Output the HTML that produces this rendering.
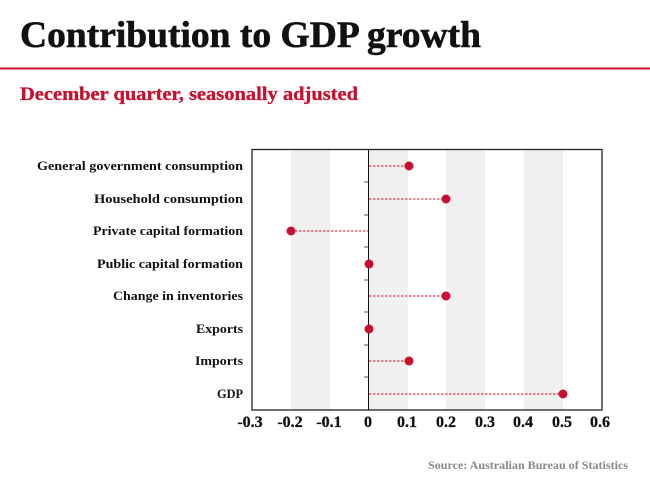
<!DOCTYPE html>
<html><head><meta charset="utf-8"><style>
html,body{margin:0;padding:0;background:#fff;}
svg{display:block;}
text{font-family:"Liberation Serif",serif;font-weight:bold;}
</style></head><body>
<svg width="650" height="488" viewBox="0 0 650 488" xmlns="http://www.w3.org/2000/svg">
<text x="20" y="47" font-size="37" fill="#111" textLength="461" lengthAdjust="spacingAndGlyphs" stroke="#111" stroke-width="0.6">Contribution to GDP growth</text>
<rect x="0" y="67.5" width="650" height="2" fill="#c8102e"/>
<text x="20" y="100" font-size="19" fill="#c8102e" textLength="338" lengthAdjust="spacingAndGlyphs" stroke="#c8102e" stroke-width="0.3">December quarter, seasonally adjusted</text>
<g fill="#f0f0f0">
<rect x="291" y="150" width="39" height="260"/>
<rect x="369" y="150" width="39" height="260"/>
<rect x="446" y="150" width="39" height="260"/>
<rect x="524" y="150" width="39" height="260"/>
</g>
<rect x="252" y="149.5" width="350" height="260.5" fill="none" stroke="#222" stroke-width="1.3"/>
<line x1="368.5" y1="150" x2="368.5" y2="410" stroke="#111" stroke-width="1"/>
<g stroke="#555" stroke-width="1">
<line x1="364" y1="182" x2="368" y2="182"/><line x1="364" y1="215" x2="368" y2="215"/>
<line x1="364" y1="247" x2="368" y2="247"/><line x1="364" y1="280" x2="368" y2="280"/>
<line x1="364" y1="312" x2="368" y2="312"/><line x1="364" y1="345" x2="368" y2="345"/>
<line x1="364" y1="377" x2="368" y2="377"/>
</g>
<g stroke="#c8102e" stroke-width="1" stroke-dasharray="2.5,1.5">
<line x1="369" y1="166" x2="409" y2="166"/>
<line x1="369" y1="199" x2="446" y2="199"/>
<line x1="291" y1="231" x2="368" y2="231"/>
<line x1="369" y1="296" x2="446" y2="296"/>
<line x1="369" y1="361" x2="409" y2="361"/>
<line x1="369" y1="394" x2="563" y2="394"/>
</g>
<g fill="#c8102e">
<circle cx="409" cy="166" r="4.5"/><circle cx="446" cy="199" r="4.5"/>
<circle cx="291" cy="231" r="4.5"/><circle cx="369" cy="264" r="4.5"/>
<circle cx="446" cy="296" r="4.5"/><circle cx="369" cy="329" r="4.5"/>
<circle cx="409" cy="361" r="4.5"/><circle cx="563" cy="394" r="4.5"/>
</g>
<g font-size="13" fill="#111" lengthAdjust="spacingAndGlyphs">
<text x="37" y="170" textLength="206" lengthAdjust="spacingAndGlyphs">General government consumption</text>
<text x="94" y="203" textLength="149" lengthAdjust="spacingAndGlyphs">Household consumption</text>
<text x="93" y="235" textLength="150" lengthAdjust="spacingAndGlyphs">Private capital formation</text>
<text x="97" y="268" textLength="146" lengthAdjust="spacingAndGlyphs">Public capital formation</text>
<text x="113" y="300" textLength="130" lengthAdjust="spacingAndGlyphs">Change in inventories</text>
<text x="196" y="333" textLength="47" lengthAdjust="spacingAndGlyphs">Exports</text>
<text x="195" y="365" textLength="48" lengthAdjust="spacingAndGlyphs">Imports</text>
<text x="217" y="398" textLength="26" lengthAdjust="spacingAndGlyphs">GDP</text>
</g>
<g font-size="16" fill="#111" text-anchor="middle" stroke="#111" stroke-width="0.3">
<text x="250" y="427">-0.3</text><text x="290" y="427">-0.2</text><text x="329" y="427">-0.1</text>
<text x="368" y="427">0</text><text x="407" y="427">0.1</text><text x="446" y="427">0.2</text>
<text x="485" y="427">0.3</text><text x="523" y="427">0.4</text><text x="562" y="427">0.5</text>
<text x="600" y="427">0.6</text>
</g>
<text x="428" y="469" font-size="11.5" fill="#888" textLength="200" lengthAdjust="spacingAndGlyphs">Source: Australian Bureau of Statistics</text>
</svg>
</body></html>
